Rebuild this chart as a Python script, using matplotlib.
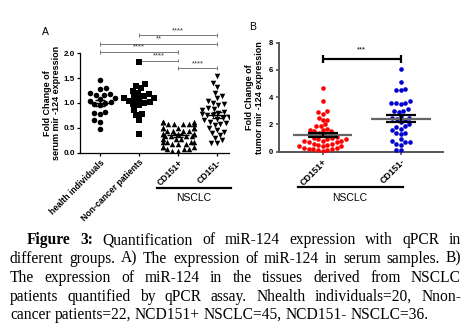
import matplotlib
matplotlib.use("Agg")
import matplotlib.pyplot as plt
import numpy as np
import seaborn as sns

# Panel A: serum fold change of miR-124
cats_a = ["health individuals", "Non-cancer patients", "CD151+", "CD151-"]
health = [1.46, 1.30, 1.28, 1.20, 1.18, 1.16, 1.16, 1.10, 1.08, 1.05,
          1.02, 1.00, 0.98, 0.95, 0.82, 0.80, 0.78, 0.66, 0.62, 0.47]
non_cancer = [1.82, 1.38, 1.35, 1.30, 1.25, 1.20, 1.18, 1.15, 1.12, 1.10, 1.10,
              1.08, 1.05, 1.02, 1.00, 0.98, 0.95, 0.85, 0.78, 0.75, 0.65, 0.38]
cd151_pos_a = [0.62] * 4 + [0.57] * 5 + [0.50] * 5 + [0.44] * 4 + [0.38] * 5 + \
              [0.33] * 4 + [0.27] * 3 + [0.22] * 4 + [0.17] * 3 + [0.12] * 3 + \
              [0.07] * 3 + [0.03] * 2
cd151_neg_a = [1.55, 1.40, 1.32, 1.20, 1.15, 1.10, 1.05, 1.00, 0.98, 0.95,
               0.90, 0.88, 0.85, 0.82, 0.80, 0.80, 0.78, 0.76, 0.75, 0.72,
               0.70, 0.68, 0.65, 0.62, 0.60, 0.58, 0.55, 0.50, 0.45, 0.42,
               0.40, 0.35, 0.30, 0.25, 0.20, 0.20]
groups_a = [health, non_cancer, cd151_pos_a, cd151_neg_a]
markers_a = ["o", "s", "^", "v"]
# (from, to, label)
brackets_a = [(1, 3, "****"), (0, 3, "**"), (0, 2, "****"), (1, 2, "****"), (2, 3, "****")]
bracket_y_a = [2.37, 2.19, 2.03, 1.85, 1.70]

# Panel B: tumour tissue fold change
cats_b = ["CD151+", "CD151-"]
cd151_pos_b = [4.7, 3.7, 3.0, 2.9, 2.8, 2.5, 2.3, 2.3, 2.0, 1.9,
               1.9, 1.7, 1.6, 1.6, 1.5, 1.5, 1.4, 1.3, 1.2, 1.1,
               1.0, 1.0, 0.9, 0.9, 0.9, 0.8, 0.8, 0.8, 0.7, 0.7,
               0.6, 0.6, 0.5, 0.5, 0.4, 0.4, 0.4, 0.3, 0.3, 0.2,
               0.2, 0.2, 0.1, 0.1, 0.05]
cd151_neg_b = [6.1, 5.1, 4.6, 4.5, 4.5, 3.7, 3.6, 3.6, 3.6, 3.5,
               3.1, 3.0, 3.0, 2.9, 2.6, 2.5, 2.5, 2.4, 2.3, 2.2,
               2.0, 1.9, 1.8, 1.7, 1.6, 1.4, 1.4, 1.3, 0.9, 0.8,
               0.7, 0.7, 0.6, 0.5, 0.15, 0.15]
groups_b = [cd151_pos_b, cd151_neg_b]
colors_b = ["#ff0000", "#0000cc"]

caption = [
    "Figure 3: Quantification of miR-124 expression with qPCR in",
    "different groups. A) The expression of miR-124 in serum samples. B)",
    "The expression of miR-124 in the tissues derived from NSCLC",
    "patients quantified by qPCR assay. Nhealth individuals=20, Nnon-",
    "cancer patients=22, NCD151+ NSCLC=45, NCD151- NSCLC=36.",
]

plt.rcParams["font.family"] = ["Liberation Sans", "DejaVu Sans"]

fig = plt.figure(figsize=(4.72, 3.30), dpi=100)
W, H = 472, 330


def px_axes(left, top, right, bottom):
    return fig.add_axes([left / W, 1 - bottom / H, (right - left) / W, (bottom - top) / H])


def mean_sem(ax, x, vals, half, cap, color_mean, color_err, lw):
    v = np.asarray(vals)
    m = v.mean()
    se = v.std(ddof=1) / np.sqrt(len(v))
    ax.hlines(m, x - half, x + half, color=color_mean, lw=lw, zorder=4)
    ax.vlines(x, m - se, m + se, color=color_err, lw=lw, zorder=4)
    ax.hlines([m - se, m + se], x - cap, x + cap, color=color_err, lw=lw, zorder=4)


# ---------- Panel A ----------
ax = px_axes(80, 53.3, 229, 152.7)
for i, (vals, mk) in enumerate(zip(groups_a, markers_a)):
    sns.swarmplot(x=[cats_a[i]] * len(vals), y=vals, order=cats_a, ax=ax,
                  marker=mk, color="black", size=4.0, linewidth=0, zorder=3,
                  warn_thresh=1)
for i, vals in enumerate(groups_a):
    mean_sem(ax, i, vals, 0.28, 0.13, "black", "black", 1.0)
ax.set_xlim(-0.51, 3.3)
ax.set_ylim(0, 2.0)
ax.set_yticks([0, 0.5, 1.0, 1.5, 2.0])
ax.set_yticklabels(["0.0", "0.5", "1.0", "1.5", "2.0"], fontsize=5.8, fontweight="bold")
ax.set_xticks(range(4))
ax.set_xticklabels(cats_a, rotation=45, ha="right", rotation_mode="anchor",
                   fontsize=6.2, fontweight="bold")
ax.set_xlabel("")
ax.set_ylabel("Fold Change of\nserum mir -124 expression", fontsize=6.5,
              fontweight="bold", labelpad=1.5, linespacing=1.1)
for s in ["top", "right"]:
    ax.spines[s].set_visible(False)
for s in ["left", "bottom"]:
    ax.spines[s].set_linewidth(0.9)
ax.tick_params(length=2.5, width=0.9, pad=1.2)
for (a, b, lab), yb in zip(brackets_a, bracket_y_a):
    ax.hlines(yb, a, b, color="#777777", lw=0.7, clip_on=False)
    ax.vlines([a, b], yb - 0.035, yb + 0.035, color="#777777", lw=0.7, clip_on=False)
    ax.text((a + b) / 2, yb + 0.02, lab, ha="center", va="bottom", fontsize=5.5,
            color="#333333", clip_on=False)
ax.plot([1.46, 3.35], [-0.716, -0.716], color="black", lw=1.6, clip_on=False)
ax.text(2.4, -0.82, "NSCLC", ha="center", va="top", fontsize=7.5, clip_on=False)
fig.text(45 / W, 1 - 32 / H, "A", fontsize=7.5, ha="center", va="center")

# ---------- Panel B ----------
bx = px_axes(279, 42.7, 443, 151.7)
for i, vals in enumerate(groups_b):
    sns.swarmplot(x=[cats_b[i]] * len(vals), y=vals, order=cats_b, ax=bx,
                  marker="o", color=colors_b[i], size=3.3, linewidth=0, zorder=3,
                  warn_thresh=1)
for i, vals in enumerate(groups_b):
    mean_sem(bx, i, vals, 0.38, 0.19, "#666666", "black", 1.6)
bx.set_xlim(-0.56, 1.54)
bx.set_ylim(0, 8)
bx.set_yticks([0, 2, 4, 6, 8])
bx.set_yticklabels(["0", "2", "4", "6", "8"], fontsize=5.5, fontweight="bold")
bx.set_xticks(range(2))
bx.set_xticklabels(cats_b, rotation=45, ha="right", rotation_mode="anchor",
                   fontsize=6.5, fontweight="bold")
bx.set_xlabel("")
bx.set_ylabel("Fold Change of\ntumor mir -124 expression", fontsize=6.5,
              fontweight="bold", labelpad=4, linespacing=1.1)
for s in ["top", "right"]:
    bx.spines[s].set_visible(False)
for s in ["left", "bottom"]:
    bx.spines[s].set_linewidth(1.4)
    bx.spines[s].set_color("#555555")
bx.tick_params(length=2.5, width=1.2, pad=1.5, color="#555555")
bx.hlines(6.79, 0, 1, color="black", lw=1.6, clip_on=False)
bx.vlines([0, 1], 6.5, 7.1, color="black", lw=1.6, clip_on=False)
bx.text(0.5, 7.2, "***", ha="center", va="bottom", fontsize=5.5, clip_on=False)
bx.plot([-0.32, 1.03], [-2.62, -2.62], color="black", lw=1.6, clip_on=False)
bx.text(0.35, -3.05, "NSCLC", ha="center", va="top", fontsize=7.5, clip_on=False)
fig.text(252.7 / W, 1 - 27 / H, "B", fontsize=7.5, ha="center", va="center")

# ---------- Caption (justified word by word) ----------
fig.canvas.draw()
renderer = fig.canvas.get_renderer()
cap_font = dict(family=["Liberation Serif", "DejaVu Serif"], size=11.2)
baselines = [244, 262.8, 281.7, 301, 319]
left_edges = [27, 10, 10, 10, 10]
right_edge = 461


def word_width(word, bold=False):
    t = fig.text(0, 0, word, fontweight="bold" if bold else "normal", **cap_font)
    w = t.get_window_extent(renderer=renderer).width
    t.remove()
    return w


def x_bottom_row(s, bold=False):
    # lowest ink row of a trailing "x", to check where the baseline really lands
    f = plt.figure(figsize=(3.0, 0.5), dpi=100)
    f.text(0.02, 0.4, s + "x", va="baseline",
           fontweight="bold" if bold else "normal", **cap_font)
    f.canvas.draw()
    a = np.asarray(f.canvas.buffer_rgba())[:, :, 0]
    plt.close(f)
    cols = np.where((a < 128).any(axis=0))[0]
    right = a[:, cols[-1] - 2:cols[-1] + 1]
    return np.where((right < 128).any(axis=1))[0][-1]


ref_row = x_bottom_row("")
space_w = word_width("a b") - word_width("ab")
for li, line in enumerate(caption):
    words = line.split(" ")
    bolds = [li == 0 and k < 2 for k in range(len(words))]
    widths = [word_width(w, b) for w, b in zip(words, bolds)]
    if li < len(caption) - 1:
        gap = (right_edge - left_edges[li] - sum(widths)) / (len(words) - 1)
    else:
        gap = space_w
    x = left_edges[li]
    for w, b, ww in zip(words, bolds, widths):
        shift = ref_row - x_bottom_row(w, b)
        fig.text(x / W, 1 - (baselines[li] + shift) / H, w, ha="left", va="baseline",
                 fontweight="bold" if b else "normal", **cap_font)
        x += ww + gap

fig.savefig("out.png", dpi=100)
